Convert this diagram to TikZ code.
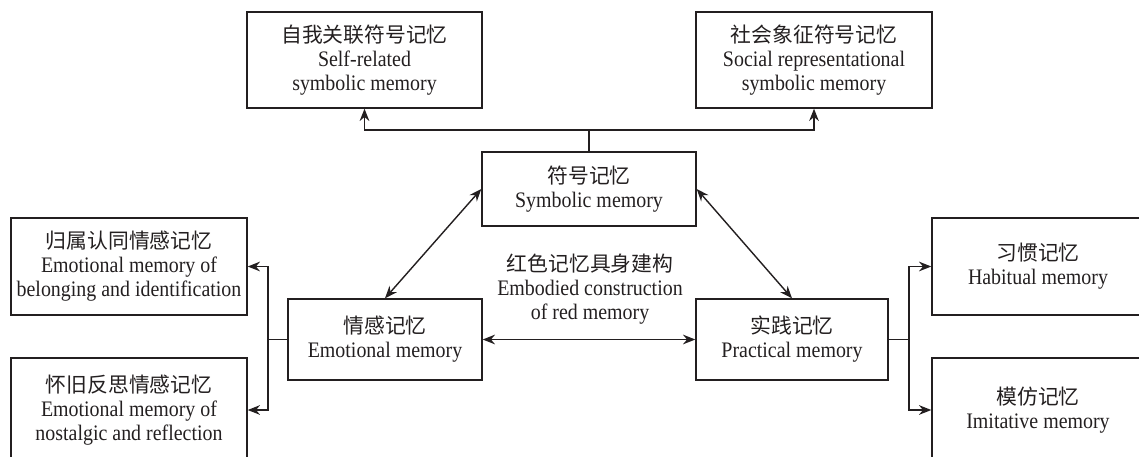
\documentclass[tikz,border=0pt]{standalone}
\usepackage{fontspec}
\setmainfont{Liberation Serif}[FakeStretch=0.9]
\newfontfamily\cjk[Scale=0.94]{Noto Sans CJK SC}
\usetikzlibrary{arrows.meta, positioning}
\definecolor{inkcolor}{RGB}{35, 31, 32}

\begin{document}
\begin{tikzpicture}[
    box/.style={rectangle, draw=inkcolor, line width=0.8pt, align=center,
                inner sep=0pt, minimum width=4.72cm, minimum height=1.94cm,
                text=inkcolor, font=\fontsize{12.6pt}{13.6pt}\selectfont},
    link/.style={draw=inkcolor, line width=0.8pt},
    tip/.style={link, -{Stealth[length=7pt, width=5.5pt]}},
    twotip/.style={link, {Stealth[length=7pt, width=5.5pt]}-{Stealth[length=7pt, width=5.5pt]}}
]
\useasboundingbox (0,0) rectangle (22.78,-9.12);

% Symbolic memory and its branches
\node[box, minimum width=4.28cm, minimum height=1.48cm] (symbolic) at (11.78,-3.78) {{\cjk 符号记忆}\\Symbolic memory};
\node[box, minimum width=4.7cm, minimum height=1.92cm] (selfrel) at (7.29,-1.2) {{\cjk 自我关联符号记忆}\\Self-related\\symbolic memory};
\node[box, minimum height=1.92cm] (social) at (16.28,-1.2) {{\cjk 社会象征符号记忆}\\Social representational\\symbolic memory};

% Emotional memory and its branches
\node[box, minimum width=3.88cm, minimum height=1.62cm] (emotional) at (7.7,-6.79) {{\cjk 情感记忆}\\Emotional memory};
\node[box] (belong) at (2.58,-5.33) {{\cjk 归属认同情感记忆}\\Emotional memory of\\belonging and identification};
\node[box, minimum height=2.08cm] (nostalg) at (2.58,-8.2) {{\cjk 怀旧反思情感记忆}\\Emotional memory of\\nostalgic and reflection};

% Practical memory and its branches
\node[box, minimum width=3.84cm, minimum height=1.62cm] (practical) at (15.84,-6.79) {{\cjk 实践记忆}\\Practical memory};
\node[box, minimum width=4.24cm] (habit) at (20.76,-5.33) {{\cjk 习惯记忆}\\Habitual memory};
\node[box, minimum width=4.24cm, minimum height=2.08cm] (imitate) at (20.76,-8.2) {{\cjk 模仿记忆}\\Imitative memory};

% Centre label
\node[box, draw=none, minimum width=0pt, minimum height=0pt] (redmem) at (11.8,-5.78) {{\cjk 红色记忆具身建构}\\Embodied construction\\of red memory};

% Split points
\coordinate (symsplit) at (11.78,-2.6);
\coordinate (emosplit) at (5.36,-6.79);
\coordinate (pracsplit) at (18.18,-6.79);

% Connections
\draw[link] (symbolic.north) -- (symsplit);
\foreach \n in {selfrel,social}
    \draw[tip] (symsplit) -| (\n.south);
\draw[link] (emotional.west) -- (emosplit);
\foreach \n in {belong,nostalg}
    \draw[tip] (emosplit) |- (\n.east);
\draw[link] (practical.east) -- (pracsplit);
\foreach \n in {habit,imitate}
    \draw[tip] (pracsplit) |- (\n.west);

\draw[twotip] (emotional.north) -- (symbolic.west);
\draw[twotip] (practical.north) -- (symbolic.east);
\draw[twotip] (emotional.east) -- (practical.west);

\end{tikzpicture}
\end{document}
